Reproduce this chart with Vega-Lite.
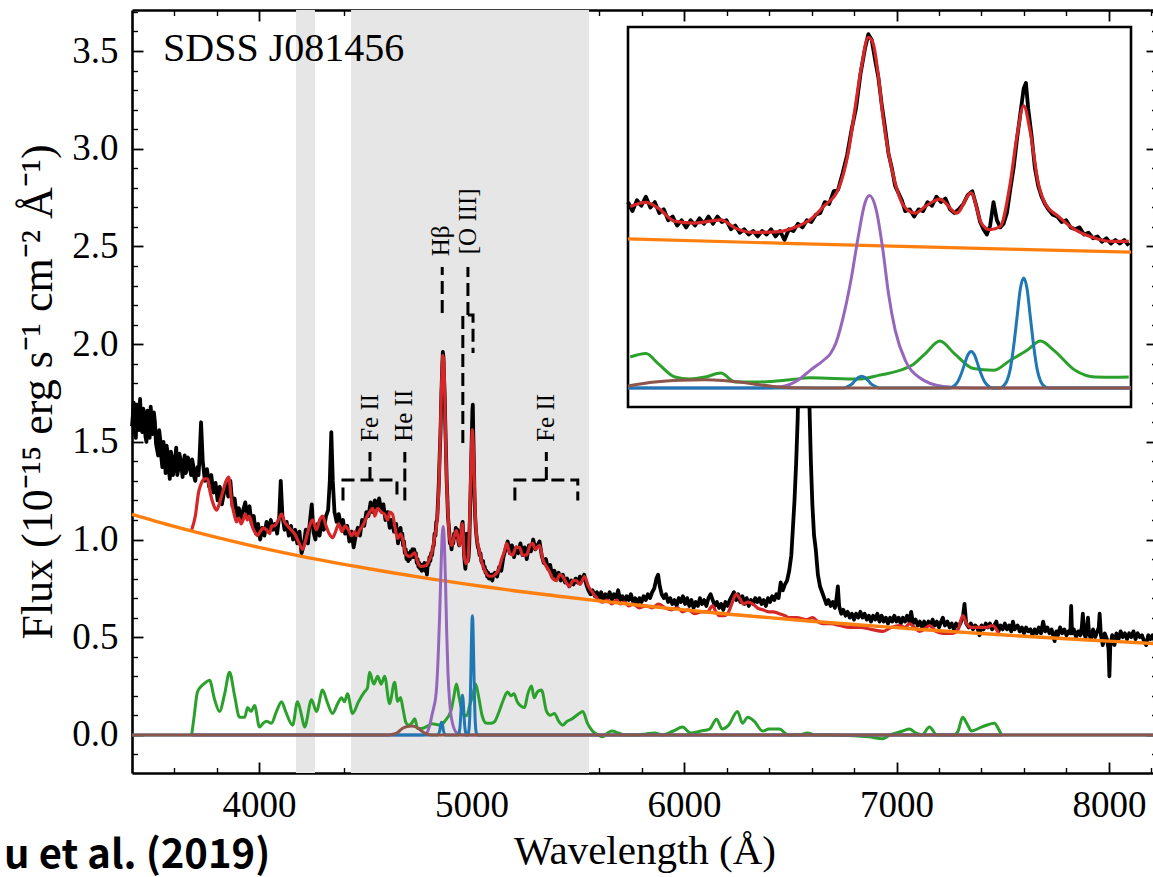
{
  "$schema": "https://vega.github.io/schema/vega-lite/v6.json",
  "width": 1025,
  "height": 763,
  "autosize": {"type": "none"},
  "padding": {"left": 132, "top": 10, "right": -4, "bottom": 104},
  "background": "white",
  "config": {
    "view": {"stroke": null},
    "axis": {
      "grid": false,
      "domainColor": "#000",
      "tickColor": "#000",
      "labelColor": "#000",
      "titleColor": "#000",
      "labelFont": "Liberation Serif",
      "titleFont": "Liberation Serif",
      "titleFontWeight": "normal",
      "labelFlush": false,
      "labelOverlap": false,
      "labelBound": false,
      "zindex": 1
    }
  },
  "datasets": {
    "bands": [{"a": 4174, "b": 4263}, {"a": 4433, "b": 5553}],
    "spec": [
      {"w":3402,"f":1.58},{"w":3405,"f":1.62},{"w":3410,"f":1.70},{"w":3415,"f":1.55},{"w":3420,"f":1.52},{"w":3425,"f":1.69},{"w":3430,"f":1.66},{"w":3435,"f":1.56},{"w":3440,"f":1.72},{"w":3445,"f":1.60},
      {"w":3450,"f":1.55},{"w":3455,"f":1.67},{"w":3460,"f":1.64},{"w":3465,"f":1.53},{"w":3470,"f":1.50},{"w":3475,"f":1.66},{"w":3480,"f":1.62},{"w":3485,"f":1.52},{"w":3490,"f":1.68},{"w":3495,"f":1.59},
      {"w":3500,"f":1.54},{"w":3505,"f":1.65},{"w":3510,"f":1.60},{"w":3515,"f":1.49},{"w":3520,"f":1.46},{"w":3525,"f":1.43},{"w":3530,"f":1.56},{"w":3535,"f":1.51},{"w":3540,"f":1.42},{"w":3545,"f":1.37},
      {"w":3550,"f":1.50},{"w":3555,"f":1.45},{"w":3560,"f":1.34},{"w":3565,"f":1.48},{"w":3570,"f":1.44},{"w":3575,"f":1.36},{"w":3580,"f":1.31},{"w":3585,"f":1.45},{"w":3590,"f":1.42},{"w":3595,"f":1.33},
      {"w":3600,"f":1.38},{"w":3605,"f":1.41},{"w":3610,"f":1.47},{"w":3615,"f":1.33},{"w":3620,"f":1.36},{"w":3625,"f":1.44},{"w":3630,"f":1.41},{"w":3635,"f":1.37},{"w":3640,"f":1.32},{"w":3645,"f":1.39},
      {"w":3650,"f":1.43},{"w":3655,"f":1.34},{"w":3660,"f":1.36},{"w":3665,"f":1.42},{"w":3670,"f":1.40},{"w":3675,"f":1.37},{"w":3680,"f":1.33},{"w":3685,"f":1.41},{"w":3690,"f":1.38},{"w":3695,"f":1.32},
      {"w":3700,"f":1.30},{"w":3705,"f":1.35},{"w":3710,"f":1.37},{"w":3715,"f":1.33},{"w":3720,"f":1.42},{"w":3727,"f":1.60},{"w":3735,"f":1.40},{"w":3745,"f":1.30},{"w":3755,"f":1.36},{"w":3765,"f":1.27},
      {"w":3775,"f":1.33},{"w":3785,"f":1.24},{"w":3795,"f":1.29},{"w":3805,"f":1.20},{"w":3815,"f":1.27},{"w":3825,"f":1.18},{"w":3835,"f":1.24},{"w":3845,"f":1.29},{"w":3855,"f":1.22},{"w":3865,"f":1.30},
      {"w":3875,"f":1.17},{"w":3885,"f":1.21},{"w":3895,"f":1.12},{"w":3905,"f":1.16},{"w":3915,"f":1.10},{"w":3925,"f":1.15},{"w":3935,"f":1.19},{"w":3945,"f":1.12},{"w":3955,"f":1.17},{"w":3965,"f":1.08},
      {"w":3975,"f":1.12},{"w":3985,"f":1.03},{"w":3995,"f":1.08},{"w":4005,"f":1.00},{"w":4015,"f":1.06},{"w":4025,"f":1.02},{"w":4035,"f":1.09},{"w":4045,"f":1.04},{"w":4055,"f":1.10},{"w":4065,"f":1.05},
      {"w":4075,"f":1.08},{"w":4085,"f":1.03},{"w":4095,"f":1.12},{"w":4102,"f":1.30},{"w":4110,"f":1.12},{"w":4120,"f":1.05},{"w":4130,"f":1.09},{"w":4140,"f":1.02},{"w":4150,"f":1.07},{"w":4160,"f":1.00},
      {"w":4170,"f":1.05},{"w":4180,"f":0.98},{"w":4190,"f":1.04},{"w":4200,"f":0.93},{"w":4210,"f":0.97},{"w":4220,"f":1.05},{"w":4230,"f":0.98},{"w":4240,"f":1.10},{"w":4248,"f":1.18},{"w":4256,"f":1.04},
      {"w":4265,"f":1.00},{"w":4275,"f":1.08},{"w":4285,"f":1.02},{"w":4295,"f":1.10},{"w":4305,"f":1.05},{"w":4315,"f":1.12},{"w":4325,"f":1.15},{"w":4333,"f":1.30},{"w":4340,"f":1.55},{"w":4347,"f":1.30},
      {"w":4355,"f":1.14},{"w":4365,"f":1.09},{"w":4375,"f":1.13},{"w":4385,"f":1.07},{"w":4395,"f":1.10},{"w":4405,"f":1.03},{"w":4415,"f":1.07},{"w":4425,"f":0.99},{"w":4435,"f":1.04},{"w":4445,"f":0.96},
      {"w":4455,"f":1.02},{"w":4465,"f":1.06},{"w":4475,"f":1.02},{"w":4485,"f":1.10},{"w":4495,"f":1.07},{"w":4505,"f":1.14},{"w":4515,"f":1.12},{"w":4525,"f":1.19},{"w":4535,"f":1.14},{"w":4545,"f":1.20},
      {"w":4555,"f":1.16},{"w":4565,"f":1.21},{"w":4575,"f":1.15},{"w":4585,"f":1.18},{"w":4595,"f":1.10},{"w":4605,"f":1.14},{"w":4615,"f":1.06},{"w":4625,"f":1.10},{"w":4635,"f":1.04},{"w":4645,"f":1.08},
      {"w":4650,"f":1.03},{"w":4654,"f":0.98},{"w":4658,"f":1.04},{"w":4662,"f":1.01},{"w":4666,"f":1.06},{"w":4670,"f":1.00},{"w":4674,"f":1.03},{"w":4678,"f":0.97},{"w":4682,"f":0.99},{"w":4686,"f":0.93},
      {"w":4690,"f":0.95},{"w":4694,"f":0.90},{"w":4698,"f":0.93},{"w":4702,"f":0.89},{"w":4706,"f":0.93},{"w":4710,"f":0.90},{"w":4714,"f":0.94},{"w":4718,"f":0.91},{"w":4722,"f":0.95},{"w":4726,"f":0.91},
      {"w":4730,"f":0.95},{"w":4734,"f":0.92},{"w":4738,"f":0.93},{"w":4742,"f":0.88},{"w":4746,"f":0.90},{"w":4750,"f":0.86},{"w":4754,"f":0.88},{"w":4758,"f":0.85},{"w":4762,"f":0.87},{"w":4766,"f":0.84},
      {"w":4770,"f":0.87},{"w":4774,"f":0.85},{"w":4778,"f":0.88},{"w":4782,"f":0.84},{"w":4786,"f":0.87},{"w":4790,"f":0.82},{"w":4794,"f":0.88},{"w":4798,"f":0.87},{"w":4802,"f":0.91},{"w":4806,"f":0.89},
      {"w":4810,"f":0.93},{"w":4814,"f":0.92},{"w":4818,"f":0.96},{"w":4822,"f":0.97},{"w":4826,"f":1.03},{"w":4830,"f":1.02},{"w":4834,"f":1.09},{"w":4838,"f":1.10},{"w":4842,"f":1.19},{"w":4846,"f":1.29},
      {"w":4850,"f":1.43},{"w":4854,"f":1.55},{"w":4858,"f":1.74},{"w":4862,"f":1.88},{"w":4865,"f":1.96},{"w":4868,"f":1.93},{"w":4871,"f":1.82},{"w":4874,"f":1.72},{"w":4877,"f":1.57},{"w":4880,"f":1.44},
      {"w":4883,"f":1.30},{"w":4886,"f":1.22},{"w":4889,"f":1.12},{"w":4892,"f":1.08},{"w":4895,"f":1.04},{"w":4898,"f":0.98},{"w":4902,"f":0.99},{"w":4906,"f":0.95},{"w":4910,"f":0.99},{"w":4914,"f":0.98},
      {"w":4918,"f":1.03},{"w":4922,"f":1.01},{"w":4926,"f":1.06},{"w":4930,"f":1.03},{"w":4934,"f":1.05},{"w":4938,"f":0.99},{"w":4942,"f":0.97},{"w":4946,"f":0.99},{"w":4950,"f":1.02},{"w":4954,"f":1.07},
      {"w":4958,"f":1.09},{"w":4962,"f":1.00},{"w":4965,"f":0.92},{"w":4968,"f":0.88},{"w":4971,"f":0.85},{"w":4974,"f":0.90},{"w":4977,"f":1.03},{"w":4980,"f":0.93},{"w":4983,"f":0.89},{"w":4986,"f":0.91},
      {"w":4989,"f":0.97},{"w":4992,"f":1.10},{"w":4995,"f":1.22},{"w":4998,"f":1.38},{"w":5001,"f":1.52},{"w":5004,"f":1.66},{"w":5006,"f":1.69},{"w":5008,"f":1.55},{"w":5011,"f":1.40},{"w":5014,"f":1.22},
      {"w":5017,"f":1.12},{"w":5020,"f":1.06},{"w":5023,"f":1.02},{"w":5026,"f":0.99},{"w":5030,"f":0.96},{"w":5034,"f":0.95},{"w":5038,"f":0.92},{"w":5042,"f":0.93},{"w":5046,"f":0.89},{"w":5050,"f":0.88},
      {"w":5054,"f":0.89},{"w":5058,"f":0.85},{"w":5062,"f":0.86},{"w":5066,"f":0.83},{"w":5070,"f":0.84},{"w":5074,"f":0.81},{"w":5078,"f":0.83},{"w":5082,"f":0.80},{"w":5086,"f":0.82},{"w":5090,"f":0.80},
      {"w":5094,"f":0.82},{"w":5098,"f":0.79},{"w":5102,"f":0.82},
      {"w":5110,"f":0.83},{"w":5120,"f":0.81},{"w":5130,"f":0.86},{"w":5140,"f":0.84},{"w":5150,"f":0.91},{"w":5160,"f":0.95},{"w":5170,"f":0.99},{"w":5180,"f":0.93},{"w":5190,"f":0.97},{"w":5200,"f":0.91},
      {"w":5210,"f":0.96},{"w":5220,"f":0.93},{"w":5230,"f":0.98},{"w":5240,"f":0.92},{"w":5250,"f":0.96},{"w":5260,"f":0.90},{"w":5270,"f":0.97},{"w":5280,"f":0.94},{"w":5290,"f":1.00},{"w":5300,"f":0.95},
      {"w":5310,"f":0.97},{"w":5320,"f":0.99},{"w":5330,"f":0.92},{"w":5340,"f":0.88},{"w":5350,"f":0.90},{"w":5360,"f":0.85},{"w":5370,"f":0.87},{"w":5380,"f":0.81},{"w":5390,"f":0.84},{"w":5400,"f":0.80},
      {"w":5410,"f":0.83},{"w":5420,"f":0.79},{"w":5430,"f":0.82},{"w":5440,"f":0.78},{"w":5450,"f":0.80},{"w":5460,"f":0.76},{"w":5470,"f":0.79},{"w":5480,"f":0.77},{"w":5490,"f":0.80},{"w":5500,"f":0.78},
      {"w":5510,"f":0.81},{"w":5520,"f":0.79},{"w":5530,"f":0.82},{"w":5540,"f":0.77},{"w":5550,"f":0.74},{"w":5560,"f":0.72},{"w":5570,"f":0.74},{"w":5580,"f":0.71},{"w":5590,"f":0.73},{"w":5600,"f":0.70},
      {"w":5610,"f":0.73},{"w":5620,"f":0.69},{"w":5630,"f":0.72},{"w":5640,"f":0.70},{"w":5650,"f":0.73},{"w":5660,"f":0.69},{"w":5670,"f":0.72},{"w":5680,"f":0.70},{"w":5690,"f":0.74},{"w":5700,"f":0.69},
      {"w":5710,"f":0.71},{"w":5720,"f":0.68},{"w":5730,"f":0.71},{"w":5740,"f":0.69},{"w":5750,"f":0.72},{"w":5760,"f":0.68},{"w":5770,"f":0.70},{"w":5780,"f":0.67},{"w":5790,"f":0.70},{"w":5800,"f":0.68},
      {"w":5810,"f":0.71},{"w":5820,"f":0.69},{"w":5830,"f":0.72},{"w":5840,"f":0.70},{"w":5850,"f":0.73},{"w":5860,"f":0.75},{"w":5870,"f":0.80},{"w":5878,"f":0.82},{"w":5886,"f":0.76},{"w":5895,"f":0.72},
      {"w":5905,"f":0.70},{"w":5915,"f":0.72},{"w":5925,"f":0.68},{"w":5935,"f":0.70},{"w":5945,"f":0.67},{"w":5955,"f":0.69},{"w":5965,"f":0.66},{"w":5975,"f":0.70},{"w":5985,"f":0.68},{"w":5995,"f":0.71},
      {"w":6005,"f":0.67},{"w":6015,"f":0.70},{"w":6025,"f":0.66},{"w":6035,"f":0.69},{"w":6045,"f":0.65},{"w":6055,"f":0.68},{"w":6065,"f":0.66},{"w":6075,"f":0.70},{"w":6085,"f":0.67},{"w":6095,"f":0.69},
      {"w":6105,"f":0.66},{"w":6115,"f":0.70},{"w":6125,"f":0.72},{"w":6135,"f":0.69},{"w":6145,"f":0.66},{"w":6155,"f":0.68},{"w":6165,"f":0.65},{"w":6175,"f":0.67},{"w":6185,"f":0.64},{"w":6195,"f":0.68},
      {"w":6205,"f":0.66},{"w":6215,"f":0.69},{"w":6225,"f":0.71},{"w":6235,"f":0.73},{"w":6245,"f":0.69},{"w":6255,"f":0.72},{"w":6265,"f":0.68},{"w":6275,"f":0.71},{"w":6285,"f":0.67},{"w":6295,"f":0.70},
      {"w":6305,"f":0.66},{"w":6315,"f":0.69},{"w":6325,"f":0.67},{"w":6335,"f":0.70},{"w":6345,"f":0.68},{"w":6355,"f":0.70},{"w":6365,"f":0.67},{"w":6375,"f":0.69},{"w":6385,"f":0.66},{"w":6395,"f":0.70},
      {"w":6405,"f":0.68},{"w":6415,"f":0.71},{"w":6425,"f":0.69},{"w":6435,"f":0.72},{"w":6445,"f":0.70},{"w":6455,"f":0.78},{"w":6465,"f":0.74},{"w":6475,"f":0.77},{"w":6485,"f":0.79},{"w":6495,"f":0.84},
      {"w":6505,"f":0.92},{"w":6512,"f":1.05},{"w":6520,"f":1.20},{"w":6528,"f":1.40},{"w":6535,"f":1.62},{"w":6542,"f":2.00},{"w":6550,"f":2.60},{"w":6558,"f":3.00},{"w":6566,"f":3.10},{"w":6574,"f":2.80},
      {"w":6582,"f":2.20},{"w":6590,"f":1.70},{"w":6597,"f":1.40},{"w":6604,"f":1.18},{"w":6612,"f":1.02},{"w":6620,"f":0.95},{"w":6630,"f":0.82},{"w":6640,"f":0.76},{"w":6650,"f":0.73},{"w":6660,"f":0.70},
      {"w":6670,"f":0.67},{"w":6680,"f":0.69},{"w":6690,"f":0.66},{"w":6700,"f":0.68},{"w":6710,"f":0.65},{"w":6718,"f":0.70},{"w":6724,"f":0.76},{"w":6730,"f":0.66},{"w":6740,"f":0.62},{"w":6750,"f":0.64},
      {"w":6760,"f":0.61},{"w":6770,"f":0.63},{"w":6780,"f":0.60},{"w":6790,"f":0.62},{"w":6800,"f":0.59},{"w":6810,"f":0.62},{"w":6820,"f":0.60},{"w":6830,"f":0.63},{"w":6840,"f":0.60},{"w":6850,"f":0.62},
      {"w":6860,"f":0.59},{"w":6870,"f":0.61},{"w":6880,"f":0.58},{"w":6890,"f":0.61},{"w":6900,"f":0.59},{"w":6910,"f":0.62},{"w":6920,"f":0.58},{"w":6930,"f":0.61},{"w":6940,"f":0.58},{"w":6950,"f":0.60},
      {"w":6960,"f":0.57},{"w":6970,"f":0.60},{"w":6980,"f":0.58},{"w":6990,"f":0.61},{"w":7000,"f":0.58},{"w":7010,"f":0.60},{"w":7020,"f":0.57},{"w":7030,"f":0.60},{"w":7040,"f":0.58},{"w":7050,"f":0.61},
      {"w":7060,"f":0.58},{"w":7069,"f":0.63},{"w":7078,"f":0.57},{"w":7090,"f":0.59},{"w":7100,"f":0.56},{"w":7110,"f":0.58},{"w":7120,"f":0.55},{"w":7130,"f":0.58},{"w":7140,"f":0.55},{"w":7150,"f":0.58},
      {"w":7160,"f":0.56},{"w":7170,"f":0.59},{"w":7180,"f":0.56},{"w":7190,"f":0.58},{"w":7200,"f":0.55},{"w":7210,"f":0.58},{"w":7218,"f":0.60},{"w":7228,"f":0.56},{"w":7240,"f":0.58},{"w":7250,"f":0.55},
      {"w":7260,"f":0.57},{"w":7270,"f":0.54},{"w":7280,"f":0.57},{"w":7290,"f":0.55},{"w":7300,"f":0.57},{"w":7312,"f":0.60},{"w":7320,"f":0.67},{"w":7328,"f":0.57},{"w":7340,"f":0.55},{"w":7350,"f":0.57},
      {"w":7360,"f":0.54},{"w":7370,"f":0.56},{"w":7380,"f":0.55},{"w":7391,"f":0.51},{"w":7400,"f":0.56},{"w":7410,"f":0.54},{"w":7420,"f":0.57},{"w":7430,"f":0.55},{"w":7440,"f":0.57},{"w":7450,"f":0.54},
      {"w":7460,"f":0.56},{"w":7470,"f":0.58},{"w":7480,"f":0.53},{"w":7490,"f":0.56},{"w":7500,"f":0.54},{"w":7510,"f":0.57},{"w":7520,"f":0.54},{"w":7530,"f":0.56},{"w":7540,"f":0.53},{"w":7548,"f":0.58},
      {"w":7556,"f":0.54},{"w":7570,"f":0.56},{"w":7580,"f":0.53},{"w":7590,"f":0.55},{"w":7600,"f":0.52},{"w":7610,"f":0.55},{"w":7620,"f":0.53},{"w":7630,"f":0.54},{"w":7640,"f":0.51},{"w":7650,"f":0.54},
      {"w":7660,"f":0.52},{"w":7670,"f":0.55},{"w":7680,"f":0.52},{"w":7690,"f":0.58},{"w":7700,"f":0.53},{"w":7710,"f":0.55},{"w":7720,"f":0.52},{"w":7730,"f":0.54},{"w":7744,"f":0.48},{"w":7752,"f":0.53},
      {"w":7760,"f":0.51},{"w":7770,"f":0.55},{"w":7780,"f":0.52},{"w":7790,"f":0.54},{"w":7800,"f":0.51},{"w":7810,"f":0.53},{"w":7818,"f":0.52},{"w":7822,"f":0.66},{"w":7826,"f":0.52},{"w":7835,"f":0.54},
      {"w":7845,"f":0.50},{"w":7855,"f":0.53},{"w":7865,"f":0.51},{"w":7872,"f":0.55},{"w":7877,"f":0.62},{"w":7882,"f":0.52},{"w":7890,"f":0.50},{"w":7896,"f":0.55},{"w":7901,"f":0.60},{"w":7906,"f":0.52},
      {"w":7915,"f":0.49},{"w":7925,"f":0.54},{"w":7935,"f":0.50},{"w":7945,"f":0.53},{"w":7952,"f":0.55},{"w":7956,"f":0.62},{"w":7962,"f":0.51},{"w":7971,"f":0.46},{"w":7980,"f":0.52},{"w":7990,"f":0.49},
      {"w":7998,"f":0.44},{"w":8002,"f":0.30},{"w":8006,"f":0.45},{"w":8015,"f":0.51},{"w":8026,"f":0.46},{"w":8035,"f":0.52},{"w":8045,"f":0.49},{"w":8055,"f":0.53},{"w":8065,"f":0.50},{"w":8075,"f":0.52},
      {"w":8085,"f":0.49},{"w":8095,"f":0.52},{"w":8105,"f":0.50},{"w":8115,"f":0.53},{"w":8125,"f":0.49},{"w":8135,"f":0.52},{"w":8145,"f":0.50},{"w":8155,"f":0.51},{"w":8165,"f":0.48},{"w":8175,"f":0.46},
      {"w":8185,"f":0.51},{"w":8195,"f":0.49},{"w":8205,"f":0.51},{"w":8215,"f":0.48},{"w":8226,"f":0.50}
    ],
    "model": [
      {"w":3683,"f":1.05},{"w":3700,"f":1.12},{"w":3715,"f":1.24},{"w":3729,"f":1.29},{"w":3745,"f":1.31},{"w":3758,"f":1.31},{"w":3770,"f":1.24},{"w":3785,"f":1.18},{"w":3800,"f":1.15},{"w":3815,"f":1.19},
      {"w":3828,"f":1.24},{"w":3845,"f":1.30},{"w":3857,"f":1.32},{"w":3870,"f":1.20},{"w":3885,"f":1.12},{"w":3894,"f":1.09},{"w":3905,"f":1.11},{"w":3915,"f":1.08},{"w":3925,"f":1.10},{"w":3935,"f":1.13},
      {"w":3945,"f":1.10},{"w":3955,"f":1.12},{"w":3970,"f":1.06},{"w":3985,"f":1.03},{"w":3993,"f":1.02},{"w":4005,"f":1.04},{"w":4020,"f":1.06},{"w":4035,"f":1.05},{"w":4050,"f":1.03},{"w":4060,"f":1.07},
      {"w":4073,"f":1.07},{"w":4090,"f":1.10},{"w":4106,"f":1.13},{"w":4120,"f":1.09},{"w":4134,"f":1.07},{"w":4150,"f":1.05},{"w":4167,"f":1.03},{"w":4185,"f":0.99},{"w":4205,"f":0.95},{"w":4220,"f":1.00},
      {"w":4235,"f":1.06},{"w":4252,"f":1.10},{"w":4270,"f":1.05},{"w":4285,"f":1.10},{"w":4299,"f":1.12},{"w":4315,"f":1.07},{"w":4330,"f":1.03},{"w":4346,"f":1.01},{"w":4360,"f":1.04},{"w":4375,"f":1.08},
      {"w":4390,"f":1.04},{"w":4405,"f":1.07},{"w":4420,"f":1.05},{"w":4435,"f":1.02},{"w":4450,"f":1.04},{"w":4459,"f":1.02},{"w":4475,"f":1.05},{"w":4488,"f":1.07},{"w":4505,"f":1.11},{"w":4520,"f":1.14},
      {"w":4535,"f":1.16},{"w":4545,"f":1.12},{"w":4558,"f":1.16},{"w":4575,"f":1.14},{"w":4590,"f":1.13},{"w":4605,"f":1.10},{"w":4615,"f":1.14},{"w":4628,"f":1.13},{"w":4640,"f":1.06},
      {"w":4652,"f":1.006},{"w":4666,"f":1.029},{"w":4677,"f":0.997},{"w":4692,"f":0.923},{"w":4710,"f":0.914},{"w":4733,"f":0.932},{"w":4746,"f":0.886},{"w":4762,"f":0.862},{"w":4786,"f":0.867},{"w":4801,"f":0.895},
      {"w":4813,"f":0.932},{"w":4825,"f":1.006},{"w":4838,"f":1.099},{"w":4847,"f":1.303},{"w":4853,"f":1.544},{"w":4859,"f":1.785},{"w":4865,"f":1.943},{"w":4869,"f":1.915},{"w":4874,"f":1.729},{"w":4878,"f":1.507},
      {"w":4883,"f":1.303},{"w":4889,"f":1.136},{"w":4897,"f":1.006},{"w":4907,"f":0.969},{"w":4916,"f":1.006},{"w":4929,"f":1.047},{"w":4944,"f":0.969},{"w":4957,"f":1.081},{"w":4966,"f":0.914},{"w":4974,"f":0.877},
      {"w":4983,"f":0.895},{"w":4992,"f":1.136},{"w":4998,"f":1.396},{"w":5004,"f":1.563},{"w":5010,"f":1.414},{"w":5017,"f":1.136},{"w":5023,"f":1.025},{"w":5035,"f":0.951},{"w":5050,"f":0.877},{"w":5068,"f":0.830},
      {"w":5083,"f":0.812},{"w":5098,"f":0.812},
      {"w":5110,"f":0.82},{"w":5125,"f":0.84},{"w":5142,"f":0.90},{"w":5155,"f":0.94},{"w":5165,"f":0.98},{"w":5180,"f":0.93},{"w":5193,"f":0.92},{"w":5210,"f":0.96},{"w":5226,"f":0.96},{"w":5240,"f":0.92},
      {"w":5259,"f":0.92},{"w":5275,"f":0.97},{"w":5288,"f":0.98},{"w":5300,"f":0.95},{"w":5320,"f":0.97},{"w":5335,"f":0.90},{"w":5353,"f":0.86},{"w":5365,"f":0.84},{"w":5382,"f":0.80},{"w":5400,"f":0.79},
      {"w":5415,"f":0.82},{"w":5429,"f":0.81},{"w":5445,"f":0.78},{"w":5461,"f":0.76},{"w":5478,"f":0.79},{"w":5494,"f":0.79},{"w":5510,"f":0.77},{"w":5532,"f":0.81},{"w":5550,"f":0.76},{"w":5569,"f":0.73},
      {"w":5590,"f":0.70},{"w":5616,"f":0.68},{"w":5640,"f":0.69},{"w":5660,"f":0.67},{"w":5682,"f":0.69},{"w":5700,"f":0.67},{"w":5720,"f":0.68},{"w":5740,"f":0.66},{"w":5760,"f":0.67},{"w":5791,"f":0.65},
      {"w":5820,"f":0.66},{"w":5850,"f":0.65},{"w":5880,"f":0.67},{"w":5910,"f":0.65},{"w":5940,"f":0.64},{"w":5970,"f":0.65},{"w":5993,"f":0.63},{"w":6020,"f":0.64},{"w":6050,"f":0.62},{"w":6080,"f":0.63},
      {"w":6110,"f":0.63},{"w":6134,"f":0.66},{"w":6150,"f":0.63},{"w":6167,"f":0.61},{"w":6190,"f":0.61},{"w":6210,"f":0.63},{"w":6228,"f":0.68},{"w":6245,"f":0.72},{"w":6261,"f":0.70},{"w":6280,"f":0.67},
      {"w":6300,"f":0.68},{"w":6324,"f":0.67},{"w":6345,"f":0.65},{"w":6371,"f":0.64},{"w":6400,"f":0.63},{"w":6418,"f":0.63},{"w":6449,"f":0.62},{"w":6475,"f":0.61},{"w":6496,"f":0.60},{"w":6530,"f":0.60},
      {"w":6575,"f":0.59},{"w":6606,"f":0.60},{"w":6630,"f":0.58},{"w":6653,"f":0.57},{"w":6690,"f":0.57},{"w":6732,"f":0.56},{"w":6780,"f":0.55},{"w":6830,"f":0.55},{"w":6880,"f":0.54},{"w":6936,"f":0.53},
      {"w":6975,"f":0.55},{"w":7014,"f":0.56},{"w":7040,"f":0.55},{"w":7061,"f":0.57},{"w":7085,"f":0.55},{"w":7108,"f":0.53},{"w":7130,"f":0.54},{"w":7155,"f":0.56},{"w":7185,"f":0.53},{"w":7218,"f":0.52},
      {"w":7265,"f":0.52},{"w":7290,"f":0.54},{"w":7312,"f":0.61},{"w":7330,"f":0.57},{"w":7351,"f":0.55},{"w":7391,"f":0.55},{"w":7420,"f":0.55},{"w":7453,"f":0.56},{"w":7470,"f":0.54},{"w":7485,"f":0.51}
    ],
    "powerlaw": [
      {"w":3402,"f":1.129},{"w":3600,"f":1.067},{"w":3800,"f":1.011},{"w":4000,"f":0.960},{"w":4200,"f":0.914},{"w":4400,"f":0.873},{"w":4600,"f":0.835},{"w":4650,"f":0.826},{"w":4800,"f":0.800},{"w":5000,"f":0.768},
      {"w":5100,"f":0.753},{"w":5200,"f":0.738},{"w":5400,"f":0.711},{"w":5600,"f":0.686},{"w":5800,"f":0.662},{"w":6000,"f":0.640},{"w":6200,"f":0.619},{"w":6400,"f":0.600},{"w":6600,"f":0.582},{"w":6800,"f":0.565},
      {"w":7000,"f":0.549},{"w":7200,"f":0.533},{"w":7400,"f":0.519},{"w":7600,"f":0.505},{"w":7800,"f":0.492},{"w":8000,"f":0.480},{"w":8226,"f":0.467}
    ],
    "feii": [
      {"w":3683,"f":0.0},{"w":3695,"f":0.10},{"w":3710,"f":0.22},{"w":3729,"f":0.25},{"w":3750,"f":0.27},{"w":3767,"f":0.28},{"w":3791,"f":0.18},{"w":3814,"f":0.12},{"w":3838,"f":0.21},{"w":3861,"f":0.32},
      {"w":3885,"f":0.20},{"w":3908,"f":0.09},{"w":3932,"f":0.09},{"w":3946,"f":0.14},{"w":3962,"f":0.12},{"w":3979,"f":0.15},{"w":4002,"f":0.04},{"w":4020,"f":0.06},{"w":4035,"f":0.07},{"w":4058,"f":0.06},
      {"w":4082,"f":0.12},{"w":4106,"f":0.17},{"w":4125,"f":0.12},{"w":4158,"f":0.05},{"w":4181,"f":0.17},{"w":4200,"f":0.10},{"w":4214,"f":0.04},{"w":4247,"f":0.18},{"w":4270,"f":0.12},{"w":4299,"f":0.23},
      {"w":4320,"f":0.17},{"w":4346,"f":0.11},{"w":4370,"f":0.16},{"w":4388,"f":0.19},{"w":4402,"f":0.17},{"w":4416,"f":0.21},{"w":4440,"f":0.11},{"w":4468,"f":0.17},{"w":4496,"f":0.22},{"w":4510,"f":0.24},
      {"w":4520,"f":0.32},{"w":4540,"f":0.26},{"w":4558,"f":0.30},{"w":4575,"f":0.26},{"w":4591,"f":0.30},{"w":4614,"f":0.16},{"w":4638,"f":0.27},{"w":4652,"f":0.172},{"w":4666,"f":0.191},{"w":4677,"f":0.135},
      {"w":4692,"f":0.061},{"w":4705,"f":0.05},{"w":4719,"f":0.061},{"w":4733,"f":0.083},{"w":4746,"f":0.033},{"w":4765,"f":0.033},{"w":4795,"f":0.046},{"w":4813,"f":0.057},{"w":4856,"f":0.05},{"w":4874,"f":0.07},
      {"w":4904,"f":0.126},{"w":4916,"f":0.191},{"w":4929,"f":0.26},{"w":4942,"f":0.191},{"w":4959,"f":0.108},{"w":4977,"f":0.098},{"w":4992,"f":0.154},{"w":5007,"f":0.209},{"w":5019,"f":0.26},{"w":5031,"f":0.209},
      {"w":5050,"f":0.098},{"w":5068,"f":0.061},{"w":5085,"f":0.06},{"w":5098,"f":0.061},{"w":5110,"f":0.07},{"w":5130,"f":0.12},{"w":5150,"f":0.18},{"w":5169,"f":0.22},{"w":5185,"f":0.20},{"w":5200,"f":0.21},
      {"w":5215,"f":0.17},{"w":5230,"f":0.15},{"w":5249,"f":0.14},{"w":5265,"f":0.21},{"w":5282,"f":0.25},{"w":5295,"f":0.19},{"w":5310,"f":0.22},{"w":5329,"f":0.23},{"w":5353,"f":0.12},{"w":5370,"f":0.10},
      {"w":5390,"f":0.11},{"w":5410,"f":0.07},{"w":5429,"f":0.05},{"w":5450,"f":0.07},{"w":5470,"f":0.08},{"w":5495,"f":0.10},{"w":5524,"f":0.12},{"w":5545,"f":0.06},{"w":5569,"f":0.02},{"w":5595,"f":0.0},
      {"w":5616,"f":-0.01},{"w":5640,"f":0.01},{"w":5660,"f":0.02},{"w":5690,"f":0.01},{"w":5720,"f":0.0},{"w":5781,"f":0.0},{"w":5820,"f":0.005},{"w":5860,"f":0.01},{"w":5900,"f":0.0},{"w":5950,"f":0.02},
      {"w":5993,"f":0.04},{"w":6030,"f":0.01},{"w":6080,"f":0.02},{"w":6120,"f":0.03},{"w":6153,"f":0.08},{"w":6180,"f":0.03},{"w":6210,"f":0.05},{"w":6252,"f":0.12},{"w":6275,"f":0.06},{"w":6300,"f":0.09},
      {"w":6330,"f":0.07},{"w":6370,"f":0.02},{"w":6400,"f":0.03},{"w":6449,"f":0.03},{"w":6490,"f":0.0},{"w":6544,"f":0.0},{"w":6580,"f":0.01},{"w":6620,"f":0.0},{"w":6700,"f":0.0},{"w":6800,"f":-0.005},
      {"w":6870,"f":-0.01},{"w":6934,"f":-0.02},{"w":6970,"f":0.0},{"w":7000,"f":0.01},{"w":7030,"f":0.02},{"w":7061,"f":0.03},{"w":7090,"f":0.01},{"w":7120,"f":0.0},{"w":7155,"f":0.04},{"w":7190,"f":0.0},
      {"w":7230,"f":0.0},{"w":7270,"f":0.0},{"w":7290,"f":0.02},{"w":7311,"f":0.09},{"w":7335,"f":0.05},{"w":7353,"f":0.02},{"w":7400,"f":0.04},{"w":7461,"f":0.06},{"w":7480,"f":0.03},{"w":7494,"f":0.0}
    ],
    "hb_broad": [
      {"w":3683,"f":0},{"w":4650,"f":0},{"w":4770,"f":0},{"w":4786,"f":0.006},{"w":4804,"f":0.052},{"w":4813,"f":0.098},{"w":4825,"f":0.154},{"w":4831,"f":0.19},{"w":4836,"f":0.25},{"w":4844,"f":0.432},
      {"w":4850,"f":0.617},{"w":4856,"f":0.84},{"w":4862,"f":1.025},{"w":4866,"f":1.066},{"w":4872,"f":0.988},{"w":4878,"f":0.766},{"w":4883,"f":0.525},{"w":4889,"f":0.321},{"w":4898,"f":0.154},{"w":4910,"f":0.061},
      {"w":4932,"f":0.009},{"w":4960,"f":0},{"w":5100,"f":0},{"w":7494,"f":0}
    ],
    "narrow": [
      {"w":3402,"f":0},{"w":4650,"f":0},{"w":4843,"f":0},{"w":4847,"f":0.01},{"w":4850,"f":0.02},{"w":4853,"f":0.04},{"w":4856,"f":0.058},{"w":4859,"f":0.065},{"w":4862,"f":0.058},{"w":4865,"f":0.04},
      {"w":4868,"f":0.02},{"w":4871,"f":0.01},{"w":4875,"f":0},{"w":4938,"f":0},{"w":4942,"f":0.013},{"w":4945,"f":0.035},{"w":4948,"f":0.076},{"w":4951,"f":0.131},{"w":4954,"f":0.183},{"w":4957,"f":0.203},
      {"w":4960,"f":0.183},{"w":4963,"f":0.131},{"w":4966,"f":0.076},{"w":4969,"f":0.035},{"w":4972,"f":0.013},{"w":4976,"f":0},{"w":4983,"f":0},{"w":4986,"f":0.012},{"w":4989,"f":0.04},{"w":4992,"f":0.105},
      {"w":4995,"f":0.23},{"w":4998,"f":0.39},{"w":5001,"f":0.55},{"w":5004,"f":0.61},{"w":5007,"f":0.55},{"w":5010,"f":0.39},{"w":5013,"f":0.23},{"w":5016,"f":0.105},{"w":5019,"f":0.04},{"w":5022,"f":0.012},
      {"w":5026,"f":0},{"w":5100,"f":0},{"w":8226,"f":0}
    ],
    "host": [
      {"w":3402,"f":0},{"w":4610,"f":0},{"w":4630,"f":0.003},{"w":4650,"f":0.011},{"w":4674,"f":0.033},{"w":4697,"f":0.043},{"w":4719,"f":0.046},{"w":4735,"f":0.042},{"w":4750,"f":0.033},{"w":4765,"f":0.02},
      {"w":4780,"f":0.009},{"w":4801,"f":0.001},{"w":4820,"f":0},{"w":5100,"f":0},{"w":8226,"f":0}
    ],
    "markers": [
      {"g":"fe1","o":0,"w":4395,"f":1.20},{"g":"fe1","o":1,"w":4395,"f":1.305},{"g":"fe1","o":2,"w":4649,"f":1.305},{"g":"fe1","o":3,"w":4649,"f":1.20},
      {"g":"fe1c","o":0,"w":4522,"f":1.305},{"g":"fe1c","o":1,"w":4522,"f":1.448},
      {"g":"he2","o":0,"w":4686,"f":1.20},{"g":"he2","o":1,"w":4686,"f":1.448},
      {"g":"hb","o":0,"w":4862,"f":2.159},{"g":"hb","o":1,"w":4862,"f":2.395},
      {"g":"o3","o":0,"w":4959,"f":1.494},{"g":"o3","o":1,"w":4959,"f":2.149},{"g":"o3","o":2,"w":5007,"f":2.149},{"g":"o3","o":3,"w":5007,"f":1.955},
      {"g":"o3c","o":0,"w":4983,"f":2.149},{"g":"o3c","o":1,"w":4983,"f":2.395},
      {"g":"fe2","o":0,"w":5204,"f":1.20},{"g":"fe2","o":1,"w":5204,"f":1.305},{"g":"fe2","o":2,"w":5500,"f":1.305},{"g":"fe2","o":3,"w":5500,"f":1.20},
      {"g":"fe2c","o":0,"w":5352,"f":1.305},{"g":"fe2c","o":1,"w":5352,"f":1.448}
    ],
    "names": [
      {"w":4522,"f":1.50,"t":"Fe II"},
      {"w":4684,"f":1.50,"t":"He II"},
      {"w":4855,"f":2.45,"t":"Hβ"},
      {"w":4985,"f":2.46,"t":"[O III]"},
      {"w":5352,"f":1.50,"t":"Fe II"}
    ],
    "frame": [{"w":4650,"w2":5100,"f":-0.105,"f2":2.0}]
  },
  "layer": [
    {
      "layer": [
        {
          "data": {"name": "bands"},
          "mark": {"type": "rect", "color": "#e6e6e6"},
          "encoding": {
            "x": {"field": "a", "type": "quantitative", "axis": null},
            "x2": {"field": "b"}
          }
        },
        {
          "data": {"name": "spec"},
          "mark": {"type": "line", "color": "#000000", "strokeWidth": 3.8, "strokeJoin": "round"},
          "encoding": {
            "x": {
              "field": "w", "type": "quantitative",
              "scale": {"domain": [3402, 8226], "nice": false, "zero": false},
              "axis": {
                "orient": "bottom", "values": [4000, 5000, 6000, 7000, 8000], "format": "d",
                "ticks": false, "domain": false,
                "labelFont": "Liberation Serif", "labelFontSize": 37, "labelPadding": 14,
                "title": "Wavelength (Å)", "titleFont": "Liberation Serif", "titleFontSize": 41, "titleFontWeight": "normal", "titlePadding": 8
              }
            },
            "y": {
              "field": "f", "type": "quantitative",
              "scale": {"domain": [-0.195, 3.71], "nice": false, "zero": false},
              "axis": {
                "orient": "left", "values": [0, 0.5, 1, 1.5, 2, 2.5, 3, 3.5], "format": ".1f",
                "ticks": false, "domain": false,
                "labelFont": "Liberation Serif", "labelFontSize": 37, "labelPadding": 14,
                "title": "Flux (10⁻¹⁵ erg s⁻¹ cm⁻² Å⁻¹)", "titleFont": "Liberation Serif", "titleFontSize": 44, "titleFontWeight": "normal", "titlePadding": 11
              }
            }
          }
        },
        {
          "data": {"name": "model"},
          "mark": {"type": "line", "color": "#d62728", "strokeWidth": 3.2, "interpolate": "monotone"},
          "encoding": {
            "x": {"field": "w", "type": "quantitative",
              "axis": {"orient": "bottom", "values": [4000, 5000, 6000, 7000, 8000], "labels": false, "tickSize": -11, "tickWidth": 1.8, "domain": true, "domainWidth": 2.6, "title": null}},
            "y": {"field": "f", "type": "quantitative",
              "axis": {"orient": "left", "values": [0, 0.5, 1, 1.5, 2, 2.5, 3, 3.5], "labels": false, "tickSize": -11, "tickWidth": 1.8, "domain": true, "domainWidth": 2.6, "title": null}}
          }
        },
        {
          "data": {"name": "powerlaw"},
          "mark": {"type": "line", "color": "#ff7f0e", "strokeWidth": 3.4, "interpolate": "monotone"},
          "encoding": {
            "x": {"field": "w", "type": "quantitative",
              "axis": {"orient": "bottom", "values": [3600, 3800, 4200, 4400, 4600, 4800, 5200, 5400, 5600, 5800, 6200, 6400, 6600, 6800, 7200, 7400, 7600, 7800, 8200], "labels": false, "tickSize": -5.5, "tickWidth": 1.4, "domain": false, "title": null}},
            "y": {"field": "f", "type": "quantitative",
              "axis": {"orient": "left", "values": [-0.1, 0.1, 0.2, 0.3, 0.4, 0.6, 0.7, 0.8, 0.9, 1.1, 1.2, 1.3, 1.4, 1.6, 1.7, 1.8, 1.9, 2.1, 2.2, 2.3, 2.4, 2.6, 2.7, 2.8, 2.9, 3.1, 3.2, 3.3, 3.4, 3.6, 3.7], "labels": false, "tickSize": -5.5, "tickWidth": 1.4, "domain": false, "title": null}}
          }
        },
        {
          "data": {"name": "feii"},
          "mark": {"type": "line", "color": "#2ca02c", "strokeWidth": 3, "interpolate": "monotone"},
          "encoding": {
            "x": {"field": "w", "type": "quantitative",
              "axis": {"orient": "top", "values": [4000, 5000, 6000, 7000, 8000], "labels": false, "tickSize": -11, "tickWidth": 1.8, "domain": true, "domainWidth": 2.6, "title": null}},
            "y": {"field": "f", "type": "quantitative",
              "axis": {"orient": "right", "values": [0, 0.5, 1, 1.5, 2, 2.5, 3, 3.5], "labels": false, "tickSize": -11, "tickWidth": 1.8, "domain": true, "domainWidth": 2.6, "title": null}}
          }
        },
        {
          "data": {"name": "hb_broad"},
          "mark": {"type": "line", "color": "#9467bd", "strokeWidth": 3, "interpolate": "monotone"},
          "encoding": {
            "x": {"field": "w", "type": "quantitative",
              "axis": {"orient": "top", "values": [3600, 3800, 4200, 4400, 4600, 4800, 5200, 5400, 5600, 5800, 6200, 6400, 6600, 6800, 7200, 7400, 7600, 7800, 8200], "labels": false, "tickSize": -5.5, "tickWidth": 1.4, "domain": false, "title": null}},
            "y": {"field": "f", "type": "quantitative",
              "axis": {"orient": "right", "values": [-0.1, 0.1, 0.2, 0.3, 0.4, 0.6, 0.7, 0.8, 0.9, 1.1, 1.2, 1.3, 1.4, 1.6, 1.7, 1.8, 1.9, 2.1, 2.2, 2.3, 2.4, 2.6, 2.7, 2.8, 2.9, 3.1, 3.2, 3.3, 3.4, 3.6, 3.7], "labels": false, "tickSize": -5.5, "tickWidth": 1.4, "domain": false, "title": null}}
          }
        },
        {
          "data": {"name": "narrow"},
          "mark": {"type": "line", "color": "#1f77b4", "strokeWidth": 3, "interpolate": "monotone"},
          "encoding": {
            "x": {"field": "w", "type": "quantitative", "axis": null},
            "y": {"field": "f", "type": "quantitative", "axis": null}
          }
        },
        {
          "data": {"name": "host"},
          "mark": {"type": "line", "color": "#8c564b", "strokeWidth": 3, "interpolate": "monotone"},
          "encoding": {
            "x": {"field": "w", "type": "quantitative", "axis": null},
            "y": {"field": "f", "type": "quantitative", "axis": null}
          }
        },
        {
          "data": {"name": "markers"},
          "mark": {"type": "line", "color": "#000000", "strokeWidth": 3, "strokeDash": [13, 6], "strokeCap": "butt"},
          "encoding": {
            "x": {"field": "w", "type": "quantitative", "axis": null},
            "y": {"field": "f", "type": "quantitative", "axis": null},
            "detail": {"field": "g"},
            "order": {"field": "o"}
          }
        },
        {
          "data": {"name": "names"},
          "mark": {"type": "text", "angle": 270, "align": "left", "baseline": "middle", "font": "Liberation Serif", "fontSize": 25, "color": "#000000"},
          "encoding": {
            "x": {"field": "w", "type": "quantitative", "axis": null},
            "y": {"field": "f", "type": "quantitative", "axis": null},
            "text": {"field": "t"}
          }
        },
        {
          "data": {"values": [{"w": 3548, "f": 3.449, "t": "SDSS J081456"}]},
          "mark": {"type": "text", "align": "left", "baseline": "alphabetic", "font": "Liberation Serif", "fontSize": 40, "color": "#000000"},
          "encoding": {
            "x": {"field": "w", "type": "quantitative", "axis": null},
            "y": {"field": "f", "type": "quantitative", "axis": null},
            "text": {"field": "t"}
          }
        },
        {
          "data": {"values": [{"w": 2800, "f": -0.68, "t": "u et al. (2019)"}]},
          "mark": {"type": "text", "align": "left", "baseline": "alphabetic", "font": "Noto Sans CJK SC", "fontWeight": "bold", "fontSize": 40, "color": "#000000"},
          "encoding": {
            "x": {"field": "w", "type": "quantitative", "axis": null},
            "y": {"field": "f", "type": "quantitative", "axis": null},
            "text": {"field": "t"}
          }
        }
      ],
      "resolve": {"axis": {"x": "independent", "y": "independent"}}
    },
    {
      "layer": [
        {
          "data": {"name": "frame"},
          "mark": {"type": "rect", "fill": "#ffffff", "stroke": "#000000", "strokeWidth": 2.6},
          "encoding": {
            "x": {
              "field": "w", "type": "quantitative",
              "scale": {"domain": [4650, 5100], "range": [496, 999], "nice": false, "zero": false},
              "axis": {"orient": "bottom", "offset": -366, "values": [4700, 4750, 4800, 4850, 4900, 4950, 5000, 5050], "labels": false, "domain": false, "tickSize": -7, "tickWidth": 1.6, "title": null}
            },
            "x2": {"field": "w2"},
            "y": {
              "field": "f", "type": "quantitative",
              "scale": {"domain": [-0.105, 2.0], "range": [397, 17], "nice": false, "zero": false},
              "axis": {"orient": "left", "offset": -496, "values": [0, 0.2, 0.4, 0.6, 0.8, 1.0, 1.2, 1.4, 1.6, 1.8], "labels": false, "domain": false, "tickSize": -7, "tickWidth": 1.6, "title": null}
            },
            "y2": {"field": "f2"}
          }
        },
        {
          "data": {"name": "spec"},
          "transform": [{"filter": "datum.w >= 4650 && datum.w <= 5100"}],
          "mark": {"type": "line", "color": "#000000", "strokeWidth": 3.8, "strokeJoin": "round"},
          "encoding": {
            "x": {"field": "w", "type": "quantitative",
              "axis": {"orient": "top", "offset": -17, "values": [4700, 4750, 4800, 4850, 4900, 4950, 5000, 5050], "labels": false, "domain": false, "tickSize": -7, "tickWidth": 1.6, "title": null}},
            "y": {"field": "f", "type": "quantitative",
              "axis": {"orient": "right", "offset": -26, "values": [0, 0.2, 0.4, 0.6, 0.8, 1.0, 1.2, 1.4, 1.6, 1.8], "labels": false, "domain": false, "tickSize": -7, "tickWidth": 1.6, "title": null}}
          }
        },
        {
          "data": {"name": "model"},
          "transform": [{"filter": "datum.w >= 4650 && datum.w <= 5100"}],
          "mark": {"type": "line", "color": "#d62728", "strokeWidth": 3.2, "interpolate": "monotone"},
          "encoding": {
            "x": {"field": "w", "type": "quantitative", "axis": null},
            "y": {"field": "f", "type": "quantitative", "axis": null}
          }
        },
        {
          "data": {"name": "powerlaw"},
          "transform": [{"filter": "datum.w >= 4650 && datum.w <= 5100"}],
          "mark": {"type": "line", "color": "#ff7f0e", "strokeWidth": 3.2},
          "encoding": {
            "x": {"field": "w", "type": "quantitative", "axis": null},
            "y": {"field": "f", "type": "quantitative", "axis": null}
          }
        },
        {
          "data": {"name": "feii"},
          "transform": [{"filter": "datum.w >= 4650 && datum.w <= 5100"}],
          "mark": {"type": "line", "color": "#2ca02c", "strokeWidth": 3, "interpolate": "monotone"},
          "encoding": {
            "x": {"field": "w", "type": "quantitative", "axis": null},
            "y": {"field": "f", "type": "quantitative", "axis": null}
          }
        },
        {
          "data": {"name": "hb_broad"},
          "transform": [{"filter": "datum.w >= 4650 && datum.w <= 5100"}],
          "mark": {"type": "line", "color": "#9467bd", "strokeWidth": 3, "interpolate": "monotone"},
          "encoding": {
            "x": {"field": "w", "type": "quantitative", "axis": null},
            "y": {"field": "f", "type": "quantitative", "axis": null}
          }
        },
        {
          "data": {"name": "narrow"},
          "transform": [{"filter": "datum.w >= 4650 && datum.w <= 5100"}],
          "mark": {"type": "line", "color": "#1f77b4", "strokeWidth": 3, "interpolate": "monotone"},
          "encoding": {
            "x": {"field": "w", "type": "quantitative", "axis": null},
            "y": {"field": "f", "type": "quantitative", "axis": null}
          }
        },
        {
          "data": {"name": "host"},
          "transform": [{"filter": "datum.w >= 4650 && datum.w <= 5100"}],
          "mark": {"type": "line", "color": "#8c564b", "strokeWidth": 3, "interpolate": "monotone"},
          "encoding": {
            "x": {"field": "w", "type": "quantitative", "axis": null},
            "y": {"field": "f", "type": "quantitative", "axis": null}
          }
        }
      ],
      "resolve": {"axis": {"x": "independent", "y": "independent"}}
    }
  ],
  "resolve": {"scale": {"x": "independent", "y": "independent"}}
}
